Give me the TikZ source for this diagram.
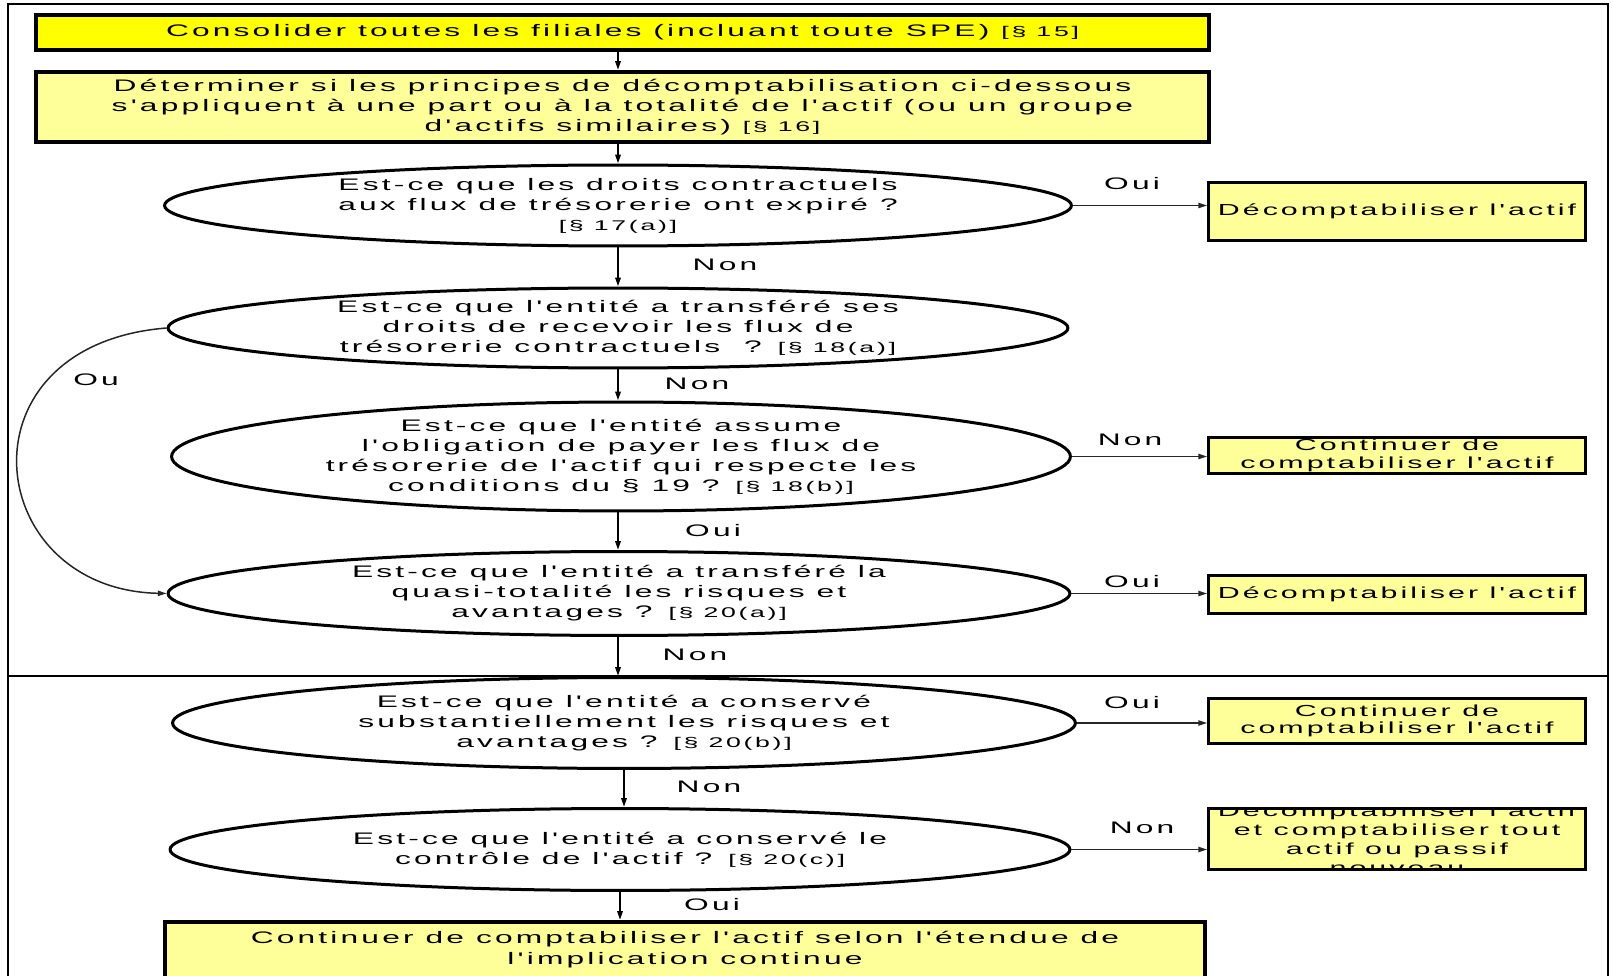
\documentclass[tikz,border=0pt]{standalone}
\usepackage{fontspec}
\setmainfont{Liberation Sans}[FakeStretch=1.9, LetterSpace=19, Ligatures=TeXOff]
\usepackage{tikz}
\usetikzlibrary{shapes.geometric, arrows.meta, calc}
\tikzset{>={Triangle[length=5pt, width=3pt]}}
\definecolor{brightyellow}{HTML}{FFFF00}
\definecolor{paleyellow}{HTML}{FFFF99}
\newcommand{\mainsz}{\fontsize{9.5}{11.4}\selectfont}
\newcommand{\refsz}{\fontsize{8}{9}\selectfont}

\begin{document}
\begin{tikzpicture}[
  x=0.02cm, y=-0.02cm,
  topbox/.style={rectangle, draw=black, line width=0.08cm, inner sep=0pt, align=center, font=\mainsz},
  question/.style={ellipse, draw=black, fill=white, line width=0.06cm, inner sep=0pt, align=center, font=\mainsz},
  outcome/.style={rectangle, draw=black, fill=paleyellow, line width=0.055cm, inner sep=0pt, minimum width=7.54cm, align=center, font=\fontsize{9.1}{10}\selectfont},
  flowarrow/.style={->, line width=0.04cm, black},
  sidearrow/.style={->, line width=0.03cm, black!85},
  answer/.style={font=\mainsz},
  framestyle/.style={line width=0.05cm, black}
]
\clip (0,0) rectangle (1613,976);
\fill[white] (0,0) rectangle (1613,976);

% Outer frame and separator
\draw[framestyle] (8,4) rectangle (1608,1000);
\draw[framestyle] (8,676) -- (1608,676);

% Top boxes
\node[topbox, fill=brightyellow, minimum width=23.46cm, minimum height=0.70cm] (consol) at (622.5,32.5) {Consolider toutes les filiales (incluant toute SPE) {\refsz [§ 15]}};
\node[topbox, fill=paleyellow, minimum width=23.46cm, minimum height=1.40cm] (determ) at (622.5,107) {D\'eterminer si les principes de d\'ecomptabilisation ci-dessous\\s'appliquent \`a une part ou \`a la totalit\'e de l'actif (ou un groupe\\d'actifs similaires) {\refsz [§ 16]}};

% Questions
\node[question, minimum width=18.14cm, minimum height=1.62cm] (expire) at (618,205.5) {Est-ce que les droits contractuels\\aux flux de tr\'esorerie ont expir\'e ?\\{\refsz [§ 17(a)]}};
\node[question, minimum width=18.0cm, minimum height=1.6cm] (transdroits) at (618,328) {Est-ce que l'entit\'e a transf\'er\'e ses\\droits de recevoir les flux de\\tr\'esorerie contractuels \ ? {\refsz [§ 18(a)]}};
\node[question, minimum width=17.98cm, minimum height=2.18cm] (obligation) at (621,456.5) {Est-ce que l'entit\'e assume\\l'obligation de payer les flux de\\tr\'esorerie de l'actif qui respecte les\\conditions du § 19 ? {\refsz [§ 18(b)]}};
\node[question, minimum width=18.04cm, minimum height=1.68cm] (risques) at (619,593.5) {Est-ce que l'entit\'e a transf\'er\'e la\\quasi-totalit\'e les risques et\\avantages ? {\refsz [§ 20(a)]}};
\node[question, minimum width=18.06cm, minimum height=1.82cm] (conserve) at (624,723) {Est-ce que l'entit\'e a conserv\'e\\substantiellement les risques et\\avantages ? {\refsz [§ 20(b)]}};
\node[question, minimum width=18.0cm, minimum height=1.64cm] (controle) at (620,849.5) {Est-ce que l'entit\'e a conserv\'e le\\contr\^ole de l'actif ? {\refsz [§ 20(c)]}};

% Outcomes
\node[outcome, minimum height=1.16cm] (decomp1) at (1397,211.5) {D\'ecomptabiliser l'actif};
\node[outcome, minimum height=0.72cm] (contin1) at (1397,455.5) {Continuer de\\comptabiliser l'actif};
\node[outcome, minimum height=0.76cm] (decomp2) at (1397,594.5) {D\'ecomptabiliser l'actif};
\node[outcome, minimum height=0.9cm] (contin2) at (1397,721) {Continuer de\\comptabiliser l'actif};
\node[outcome, minimum height=1.22cm] (decomp3) at (1397,839) {};
\begin{scope}
  \clip ([shift={(0.03cm,-0.03cm)}]decomp3.north west) rectangle ([shift={(-0.03cm,0.03cm)}]decomp3.south east);
  \node[align=center, inner sep=0pt, font=\fontsize{9.1}{10.8}\selectfont] (decomp3txt) at (decomp3) {D\'ecomptabiliser l'actif\\et comptabiliser tout\\actif ou passif\\nouveau};
\end{scope}
\node[topbox, fill=paleyellow, minimum width=20.8cm, minimum height=1.12cm, font=\fontsize{9.5}{12}\selectfont] (implic) at (685,950) {Continuer de comptabiliser l'actif selon l'\'etendue de\\l'implication continue};

% Vertical flow
\draw[flowarrow] (consol.south -| expire) -- (determ.north -| expire);
\draw[flowarrow] (determ.south -| expire) -- (expire.north);
\draw[flowarrow] (expire.south) -- (expire.south |- transdroits.north);
\draw[flowarrow] (transdroits.south) -- (transdroits.south |- obligation.north);
\draw[flowarrow] (obligation.south -| transdroits) -- (risques.north -| transdroits);
\draw[flowarrow] (risques.south -| transdroits) -- (conserve.north -| transdroits);
\draw[flowarrow] (conserve.south) -- (conserve.south |- controle.north);
\draw[flowarrow] (controle.south) -- (controle.south |- implic.north);

% Side branches
\draw[sidearrow] (expire.east) -- (expire.east -| decomp1.west);
\draw[sidearrow] (obligation.east) -- (obligation.east -| contin1.west);
\draw[sidearrow] (risques.east) -- (risques.east -| decomp2.west);
\draw[sidearrow] (conserve.east) -- (conserve.east -| contin2.west);
\draw[sidearrow] (controle.east) -- (controle.east -| decomp3.west);
\draw[sidearrow] (transdroits.west) .. controls +(-212,17) and +(-185,-4) .. (risques.west);

% Answers
\node[answer] (ouiA) at (1132,184) {Oui};
\node[answer] (nonA) at (725,265) {Non};
\node[answer] (ouB) at (96,380) {Ou};
\node[answer] (nonB) at (697,384) {Non};
\node[answer] (nonC) at (1130,440) {Non};
\node[answer] (ouiC) at (713,531) {Oui};
\node[answer] (ouiD) at (1132,582) {Oui};
\node[answer] (nonD) at (695,655) {Non};
\node[answer] (ouiE) at (1132,703) {Oui};
\node[answer] (nonE) at (709,787) {Non};
\node[answer] (nonF) at (1142,828) {Non};
\node[answer] (ouiF) at (712,905) {Oui};

\end{tikzpicture}
\end{document}
